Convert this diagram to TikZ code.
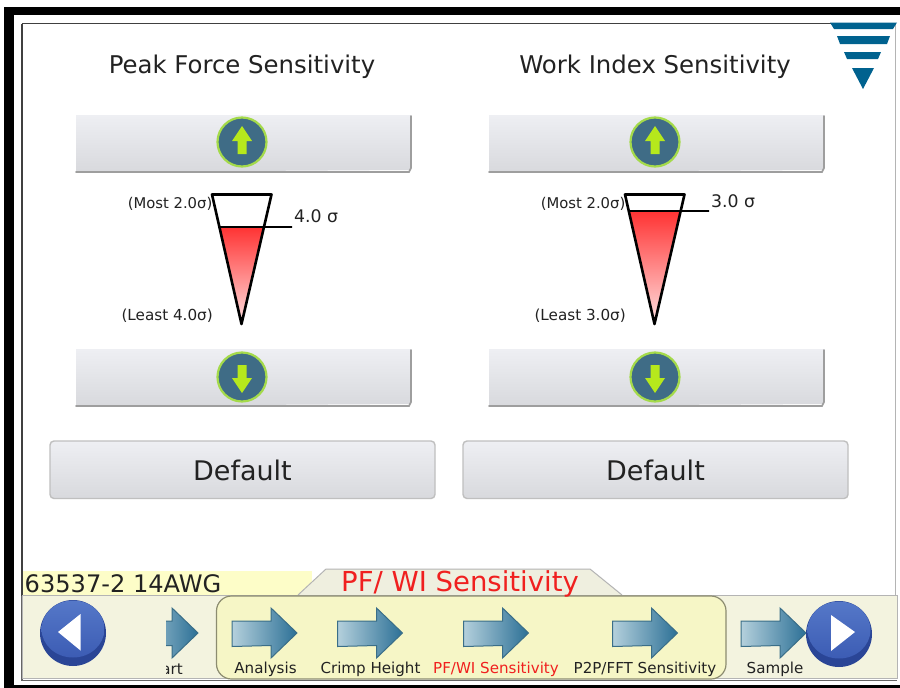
\documentclass[tikz,border=0pt]{standalone}
\usepackage{fontspec}
\setmainfont{DejaVu Sans}
\usetikzlibrary{calc}
\definecolor{frameblk}{HTML}{000000}
\definecolor{panelgray}{HTML}{B4B4B4}
\definecolor{barfill}{HTML}{F3F3DF}
\definecolor{selfill}{HTML}{F6F6C6}
\definecolor{selline}{HTML}{8C8C70}
\definecolor{yellowbar}{HTML}{FDFDC8}
\definecolor{tabfill}{HTML}{EFEFDF}
\definecolor{txtdark}{HTML}{222222}
\definecolor{redtxt}{HTML}{F0201F}
\definecolor{menublue}{HTML}{00628F}
\definecolor{circblue}{HTML}{3F6C86}
\definecolor{circring}{HTML}{A4DA4A}
\definecolor{arrgreen}{HTML}{B6E81C}
\definecolor{navline}{HTML}{3A6E88}
\definecolor{navdark}{HTML}{2C7096}
\definecolor{navlight}{HTML}{B4D0DC}
\definecolor{btntop}{HTML}{EEEFF3}
\definecolor{btnbot}{HTML}{D8D9DD}
\definecolor{balldark}{HTML}{2A4596}
\definecolor{balltop}{HTML}{5578C8}
\definecolor{ballbot}{HTML}{3C5CB4}
\newcommand{\fsz}[1]{\fontsize{#1}{#1}\selectfont}
\tikzset{
  x=1pt,y=-1pt,
  lbl/.style={inner sep=0pt,text=txtdark,font=\fsz{#1}},
  navlbl/.style={inner sep=0pt,text=txtdark,font=\fsz{15.1}},
  gaugeline/.style={draw=black,line width=2.6pt,line join=round},
  defbtn/.style={draw=black!25,line width=1.4pt,rounded corners=4pt,top color=btntop,bottom color=btnbot},
  circbtn/.style={circle,minimum size=49pt,inner sep=0pt,fill=circblue,draw=circring,line width=2.2pt},
  arrg/.style={fill=arrgreen,draw=none},
  navarr/.style={left color=navlight,right color=navdark,draw=navline,line width=1pt,line join=miter},
  menushape/.style={fill=menublue,draw=none},
}
\newcommand{\navshape}[1]{
  \path[navarr] (#1,621) -- ++(39,0) -- ++(0,-13) -- ++(26,25) -- ++(-26,25) -- ++(0,-12.5) -- (#1,646.5) -- cycle;
}
\newcommand{\bluebtn}[3]{% x, y, name
  \fill[balldark] (#1,#2) circle (33);
  \shade[top color=balltop,bottom color=ballbot] (#1,#2-4) ellipse (31.5 and 28.5);
  \node[circle,minimum size=66pt,inner sep=0pt] (#3) at (#1,#2) {};
}
\newcommand{\upglyph}[2]{\path[arrg] (#1-4.5,#2+12) -- (#1+4.5,#2+12) -- (#1+4.5,#2-1) -- (#1+10,#2-1) -- (#1,#2-16) -- (#1-10,#2-1) -- (#1-4.5,#2-1) -- cycle;}
\newcommand{\downglyph}[2]{\path[arrg] (#1-4.5,#2-12) -- (#1+4.5,#2-12) -- (#1+4.5,#2+1) -- (#1+10,#2+1) -- (#1,#2+16) -- (#1-10,#2+1) -- (#1-4.5,#2+1) -- cycle;}
\newcommand{\sens}[7]{%
  \begin{scope}[shift={(#1,0)}]
    \shade[top color=btntop,bottom color=btnbot] (76,115) -- (411,115) -- (411,170) -- (76,172) -- cycle;
    \draw[black!38,line width=1.6pt,line cap=round] (76,172) -- (409,172) -- (411,168) -- (411,116);
    \node[circbtn] (#6up) at (242,142) {};
    \upglyph{242}{142}
    \shade[top color=btntop,bottom color=btnbot] (76,349) -- (411,349) -- (411,404) -- (76,406) -- cycle;
    \draw[black!38,line width=1.6pt,line cap=round] (76,406) -- (409,406) -- (411,402) -- (411,350);
    \node[circbtn] (#6down) at (242,377) {};
    \downglyph{242}{377}
    \coordinate (#6tl) at (212,194.5);
    \coordinate (#6tr) at (271.5,194.5);
    \coordinate (#6tip) at (241.5,324);
    \fill[white] (#6tl) -- (#6tr) -- (#6tip) -- cycle;
    \shade[top color=red!80!white,bottom color=red!12!white]
      ($(#6tl)!{(#2-194.5)/129.5}!(#6tip)$) -- ($(#6tr)!{(#2-194.5)/129.5}!(#6tip)$) -- (#6tip) -- cycle;
    \draw[gaugeline] (#6tl) -- (#6tr) -- (#6tip) -- cycle;
    \coordinate (#6lvl) at ($(#6tl)!{(#2-194.5)/129.5}!(#6tip)$);
    \coordinate (#6lvlend) at (#7,#2);
    \draw[black,line width=1.8pt] (#6lvl) -- (#6lvlend);
    \node[lbl=14.8,anchor=east] (#6most) at (212.5,203.5) {(Most 2.0σ)};
    \node[lbl=15.2,anchor=east] (#6least) at (213,316) {(Least #4σ)};
    \node[lbl=17.3,anchor=west] (#6val) at (#7+2,#5) {#3};
    \path[defbtn] (50,441) rectangle (435,498.5);
    \node[lbl=27] (#6def) at (242.5,470) {Default};
  \end{scope}
}
\begin{document}
\begin{tikzpicture}
\useasboundingbox (0,0) rectangle (900,688);
\fill[white] (0,0) rectangle (900,688);
\fill[frameblk] (4,7) rectangle (900,14.5);
\fill[frameblk] (4,7) rectangle (13.5,688);
\fill[frameblk] (4,685) rectangle (900,688);
\draw[black!75,line width=1.2pt] (22,23.5) -- (835,23.5);
\draw[black!75,line width=1.2pt] (22,23.5) -- (22,596);
\draw[panelgray,line width=1pt] (895.5,23) -- (895.5,596);
\draw[black!60,line width=1.2pt] (22,596) -- (22,680.5) -- (897,680.5);
\node[lbl=24.4] (t1) at (242,67) {Peak Force Sensitivity};
\node[lbl=24.4] (t2) at (655,67) {Work Index Sensitivity};
\path[menushape] (830,22.5) -- (897,22.5) -- (893,29) -- (834,29) -- cycle;
\path[menushape] (837,36) -- (890,36) -- (887,44) -- (840,44) -- cycle;
\path[menushape] (844,52) -- (881,52) -- (878,59) -- (847,59) -- cycle;
\path[menushape] (852,68) -- (874,68) -- (863,89) -- cycle;
\sens{0}{227}{4.0 σ}{4.0}{216}{a}{292}
\sens{413}{211}{3.0 σ}{3.0}{201}{b}{296}
\fill[yellowbar] (23,571) rectangle (312,595);
\path[fill=tabfill,draw=panelgray,line width=1pt] (298,595) -- (326,569) -- (590,569) -- (622,595);
\path[fill=barfill,draw=panelgray,line width=1pt] (22,595.5) rectangle (897,678.5);
\path[fill=selfill,draw=selline,line width=1.2pt,rounded corners=15pt] (216.5,596) rectangle (726,679);
\node[lbl=24.1,anchor=west] (job) at (24.5,584) {63537-2 14AWG};
\node[lbl=27.5,text=redtxt] (tab) at (460,583.5) {PF/ WI Sensitivity};
\begin{scope}
  \clip (166,600) rectangle (215,677);
  \navshape{133}
  \node[navlbl,anchor=east] (nstart) at (183,669) {Start};
\end{scope}
\navshape{232}
\node[navlbl] (nana) at (265.5,669) {Analysis};
\navshape{337.5}
\node[navlbl] (ncrimp) at (370.5,669) {Crimp Height};
\navshape{463.5}
\node[navlbl,text=redtxt] (npf) at (496,669) {PF/WI Sensitivity};
\navshape{612.5}
\node[navlbl] (np2p) at (645,669) {P2P/FFT Sensitivity};
\navshape{741}
\node[navlbl] (nsample) at (775,669) {Sample};
\bluebtn{73}{633}{bl}
\fill[white] (58,632) -- (80.5,614) -- (80.5,650.5) -- cycle;
\bluebtn{839}{634}{br}
\fill[white] (831,615) -- (855,632) -- (831,651) -- cycle;
\end{tikzpicture}
\end{document}
